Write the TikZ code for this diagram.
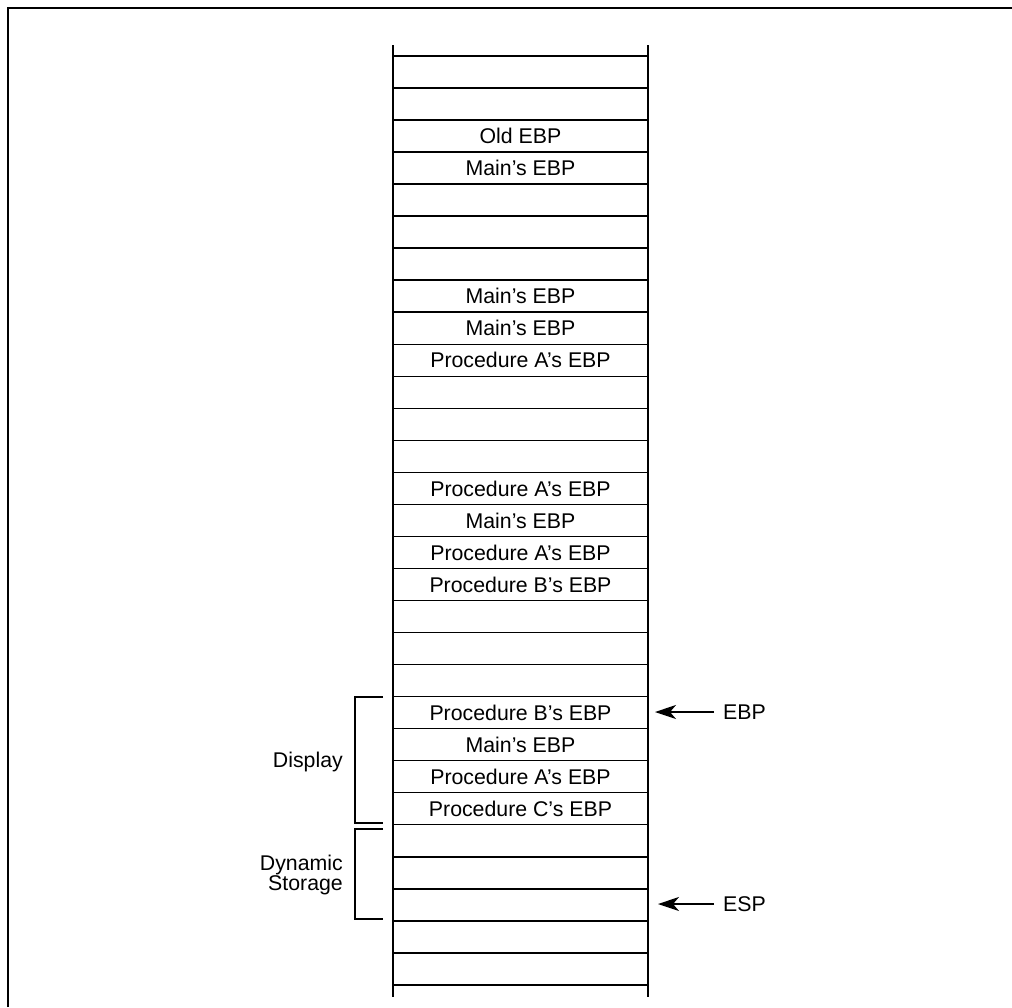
\documentclass[tikz,border=0pt]{standalone}
\usepackage{fontspec}
\setmainfont{Liberation Sans}
\usetikzlibrary{arrows.meta}
\begin{document}
\begin{tikzpicture}[x=1pt,y=-1pt,
  frameline/.style={line width=2.4pt},
  colline/.style={line width=2.2pt},
  rowline/.style={line width=1.5pt},
  bracketline/.style={line width=2.2pt},
  celltext/.style={inner sep=0pt, font=\fontsize{21.3}{17}\selectfont},
  sidetext/.style={inner sep=0pt, align=right, anchor=east, font=\fontsize{21.3}{17}\selectfont},
  ptrtext/.style={inner sep=0pt, anchor=west, font=\fontsize{21.3}{17}\selectfont},
  ptrarrow/.style={line width=1.7pt, -{Stealth[length=21pt,width=14pt,inset=6pt]}}]
\useasboundingbox (0,0) rectangle (1012,1007);
% frame (cropped at right and bottom)
\draw[frameline] (8,1007) -- (8,8) -- (1012,8);
% stack column
\def\xl{393}\def\xr{648}\def\xm{520.5}
\draw[colline] (\xl,45) -- (\xl,997);
\draw[colline] (\xr,45) -- (\xr,997);
\foreach \k in {0,...,29}{
  \draw[rowline] (\xl,56+32.03*\k) -- (\xr,56+32.03*\k);
}
% cell texts
\foreach \k/\t/\n in {2/Old EBP/c2, 3/Main’s EBP/c3,
  7/Main’s EBP/c7, 8/Main’s EBP/c8, 9/Procedure A’s EBP/c9,
  13/Procedure A’s EBP/c13, 14/Main’s EBP/c14, 15/Procedure A’s EBP/c15, 16/Procedure B’s EBP/c16,
  20/Procedure B’s EBP/c20, 21/Main’s EBP/c21, 22/Procedure A’s EBP/c22, 23/Procedure C’s EBP/c23}{
  \node[celltext] (\n) at (\xm,56+32.03*\k+16) {\t};
}
% brackets
\draw[bracketline] (383,697) -- (355,697) -- (355,823) -- (383,823);
\draw[bracketline] (383,829) -- (355,829) -- (355,919) -- (383,919);
\node[sidetext] (display) at (343,762) {Display};
\node[sidetext] (dynamic) at (343,875) {Dynamic\\Storage};
% pointers
\node[ptrtext] (ebp) at (723,712) {EBP};
\node[ptrtext] (esp) at (723,904) {ESP};
\coordinate (ebptip) at (655,712);
\coordinate (esptip) at (658,904);
\draw[ptrarrow] ([xshift=-9pt]ebp.west) -- (ebptip);
\draw[ptrarrow] ([xshift=-9pt]esp.west) -- (esptip);
\end{tikzpicture}
\end{document}
